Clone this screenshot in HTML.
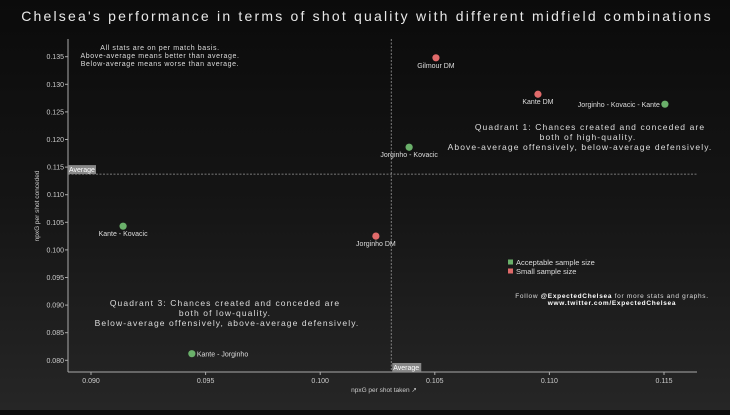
<!DOCTYPE html>
<html><head><meta charset="utf-8"><style>
html,body{margin:0;padding:0}
body{width:730px;height:410px;overflow:hidden;background:linear-gradient(180deg,#0b0b0b 0%,#151515 50%,#262626 100%);font-family:"Liberation Sans",sans-serif}
svg text{font-family:"Liberation Sans",sans-serif}
</style></head><body>
<svg id="chart" width="730" height="410">
<text x="367" y="21" fill="#e8e8e8" font-size="14" text-anchor="middle" letter-spacing="2.2">Chelsea's performance in terms of shot quality with different midfield combinations</text>
<g id="axes"></g>
<g id="marks"></g>
<text x="160" y="50" fill="#ddd" font-size="7" text-anchor="middle" letter-spacing="0.6"><tspan x="160" dy="0">All stats are on per match basis.</tspan><tspan x="160" dy="8">Above-average means better than average.</tspan><tspan x="160" dy="8">Below-average means worse than average.</tspan></text>
<text x="588" y="130" fill="#ddd" font-size="8.5" text-anchor="middle" letter-spacing="1.1"><tspan x="590" dy="0">Quadrant 1: Chances created and conceded are</tspan><tspan x="588" dy="10">both of high-quality.</tspan><tspan x="580" dy="10">Above-average offensively, below-average defensively.</tspan></text>
<text x="232" y="306" fill="#ddd" font-size="8.5" text-anchor="middle" letter-spacing="1.1"><tspan x="225" dy="0">Quadrant 3: Chances created and conceded are</tspan><tspan x="225" dy="10">both of low-quality.</tspan><tspan x="227" dy="10">Below-average offensively, above-average defensively.</tspan></text>
<g>
<rect x="508" y="259.5" width="5" height="5" fill="#6ab06a"/>
<text x="516" y="265" fill="#ddd" font-size="7.5">Acceptable sample size</text>
<rect x="508" y="268.5" width="5" height="5" fill="#e06a6a"/>
<text x="516" y="274" fill="#ddd" font-size="7.5">Small sample size</text>
</g>
<text x="612" y="298" fill="#ddd" font-size="6.5" text-anchor="middle" letter-spacing="0.7">Follow <tspan font-weight="bold" fill="#fff">@ExpectedChelsea</tspan> for more stats and graphs.</text>
<text x="612" y="305" fill="#fff" font-size="6.5" font-weight="bold" text-anchor="middle" letter-spacing="0.7">www.twitter.com/ExpectedChelsea</text>
<text x="384" y="392" fill="#ccc" font-size="6.5" text-anchor="middle">npxG per shot taken ↗</text>
<text transform="translate(39,206) rotate(-90)" fill="#ccc" font-size="6.5" text-anchor="middle">npxG per shot conceded</text>
</svg>
<script>
const labels=["Gilmour DM","Kante DM","Jorginho - Kovacic - Kante","Jorginho - Kovacic","Kante - Kovacic","Jorginho DM","Kante - Jorginho"];
const xValues=[0.10505,0.1095,0.11504,0.10388,0.0914,0.10243,0.0944];
const yValues=[0.1348,0.1282,0.1264,0.1186,0.1043,0.1025,0.0812];
const sampleSmall=[true,true,false,false,false,true,false];
const xTicks=[0.090,0.095,0.100,0.105,0.110,0.115];
const yTicks=[0.080,0.085,0.090,0.095,0.100,0.105,0.110,0.115,0.120,0.125,0.130,0.135];
const xAvg=0.1031, yAvg=0.11373;
const X=v=>91+(v-0.09)*22920;
const Y=v=>56.7+(0.135-v)*5520;
const NS="http://www.w3.org/2000/svg";
function mk(tag,attrs,parent,txt){const e=document.createElementNS(NS,tag);for(const k in attrs)e.setAttribute(k,attrs[k]);if(txt!=null)e.textContent=txt;parent.appendChild(e);return e;}
const ax=document.getElementById('axes'), mg=document.getElementById('marks');
let e;
e=mk('line',{x1:68,y1:39,x2:68,y2:372,stroke:'#aaa','stroke-width':1},ax);


e=mk('line',{x1:68,y1:372,x2:697,y2:372,stroke:'#aaa','stroke-width':1},ax);


xTicks.forEach(t=>{
 mk('line',{x1:X(t),y1:372,x2:X(t),y2:375,stroke:'#aaa'},ax);
 e=mk('text',{x:X(t),y:383,fill:'#ccc','font-size':7,'text-anchor':'middle'},ax,t.toFixed(3));
 
 
});
yTicks.forEach(t=>{
 mk('line',{x1:65,y1:Y(t),x2:68,y2:Y(t),stroke:'#aaa'},ax);
 e=mk('text',{x:64,y:Y(t)+2.5,fill:'#ccc','font-size':7,'text-anchor':'end'},ax,t.toFixed(3));
 
 
});
e=mk('line',{x1:68,y1:Y(yAvg),x2:697,y2:Y(yAvg),stroke:'#999','stroke-width':0.8,'stroke-dasharray':'2,1.5'},ax);


e=mk('line',{x1:X(xAvg),y1:39,x2:X(xAvg),y2:372,stroke:'#999','stroke-width':0.8,'stroke-dasharray':'2,1.5'},ax);


mk('rect',{x:68,y:Y(yAvg)-9,width:28,height:9,fill:'#888'},ax);
e=mk('text',{x:69,y:Y(yAvg)-2,fill:'#fff','font-size':7},ax,'Average');


mk('rect',{x:X(xAvg)+1,y:363,width:29,height:9,fill:'#888'},ax);
e=mk('text',{x:X(xAvg)+2,y:370,fill:'#fff','font-size':7},ax,'Average');


labels.forEach((l,i)=>{
 const cx=X(xValues[i]), cy=Y(yValues[i]);
 e=mk('circle',{cx:cx,cy:cy,r:3.6,fill:sampleSmall[i]?'#e06a6a':'#6ab06a'},mg);
 
 
 let tx=cx, ty=cy+10, anchor='middle';
 if(l==="Jorginho - Kovacic - Kante"){tx=cx-5;ty=cy+3;anchor='end';}
 if(l==="Kante - Jorginho"){tx=cx+5;ty=cy+3;anchor='start';}
 e=mk('text',{x:tx,y:ty,fill:'#ddd','font-size':7,'text-anchor':anchor},mg,l);
 
 
});
</script>
</body></html>
